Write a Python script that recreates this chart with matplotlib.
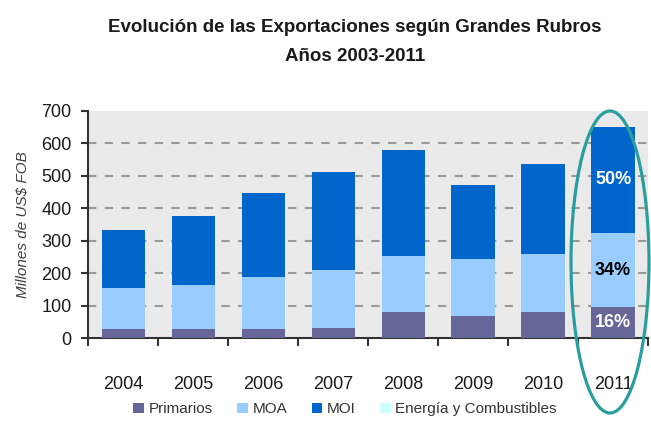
import numpy as np
import matplotlib
matplotlib.use("Agg")
import matplotlib.pyplot as plt
from matplotlib.patches import Ellipse

years = ['2004', '2005', '2006', '2007', '2008', '2009', '2010', '2011']
primarios = [28, 28, 28, 33, 80, 70, 80, 96]
moa = [128, 136, 162, 177, 174, 173, 179, 227]
moi = [177, 212, 256, 301, 325, 230, 278, 328]
energia = [0, 0, 0, 0, 0, 0, 0, 0]
pct_labels = ['16%', '34%', '50%']

plt.rcParams['font.family'] = ['Liberation Sans', 'DejaVu Sans']

fig = plt.figure(figsize=(6.51, 4.21), dpi=100)
ax = fig.add_axes([0.1356, 0.1964, 0.860, 0.5406])
ax.set_facecolor('#EAEAEA')

x = np.arange(len(years))
w = 0.62
b1 = np.array(primarios)
b2 = b1 + np.array(moa)
b3 = b2 + np.array(moi)
ax.bar(x, primarios, w, color='#666699', label='Primarios', zorder=3)
ax.bar(x, moa, w, bottom=b1, color='#99CCFF', label='MOA', zorder=3)
ax.bar(x, moi, w, bottom=b2, color='#0066CC', label='MOI', zorder=3)
ax.bar(x, energia, w, bottom=b3, color='#CCFFFF', label='Energía y Combustibles', zorder=3)

# percentages on the last bar
i = len(years) - 1
ax.text(i, b1[i] / 2, pct_labels[0], ha='center', va='center', color='white',
        fontsize=13, fontweight='bold', zorder=4)
ax.text(i, (b1[i] + b2[i]) / 2, pct_labels[1], ha='center', va='center', color='black',
        fontsize=13, fontweight='bold', zorder=4)
ax.text(i, (b2[i] + b3[i]) / 2, pct_labels[2], ha='center', va='center', color='white',
        fontsize=13, fontweight='bold', zorder=4)

ax.set_xlim(-0.5, len(years) - 0.5)
ax.set_ylim(0, 700)
ax.set_yticks(range(0, 701, 100))
for yv in range(100, 700, 100):
    ax.axhline(yv, color='#999999', lw=1.5, ls=(0, (4, 4)), zorder=1)

ax.set_xticks(x)
ax.set_xticklabels(years, fontsize=13)
ax.set_xticks(np.arange(-0.5, len(years), 1), minor=True)
ax.tick_params(axis='x', which='major', length=0, pad=27, colors='#1a1a1a')
ax.tick_params(axis='x', which='minor', length=6, width=1.5, direction='out', color='#333333')
ax.tick_params(axis='y', length=5, width=1.5, direction='out', pad=7, labelsize=13,
               color='#333333', labelcolor='#1a1a1a')

for s in ['top', 'right']:
    ax.spines[s].set_visible(False)
for s in ['left', 'bottom']:
    ax.spines[s].set_color('#333333')
    ax.spines[s].set_linewidth(1.5)

ax.set_ylabel('Millones de US$ FOB', fontsize=11, style='italic', color='#404040', labelpad=8)

fig.text(0.545, 0.935, 'Evolución de las Exportaciones según Grandes Rubros',
         ha='center', va='center', fontsize=13.5, fontweight='bold', color='#1a1a1a')
fig.text(0.545, 0.865, 'Años 2003-2011', ha='center', va='center',
         fontsize=13.5, fontweight='bold', color='#1a1a1a')

fig.legend(loc='center', bbox_to_anchor=(0.53, 0.028), ncol=4, frameon=False,
           fontsize=11, handlelength=0.7, handleheight=0.7, handletextpad=0.3,
           columnspacing=1.6, labelcolor='#333333')

ell = Ellipse((610 / 651, 1 - 262 / 421), 78 / 651, 302 / 421, transform=fig.transFigure,
              fill=False, edgecolor='#2A9D9F', lw=2.3, zorder=10)
fig.add_artist(ell)

fig.savefig('out.png', dpi=100)
